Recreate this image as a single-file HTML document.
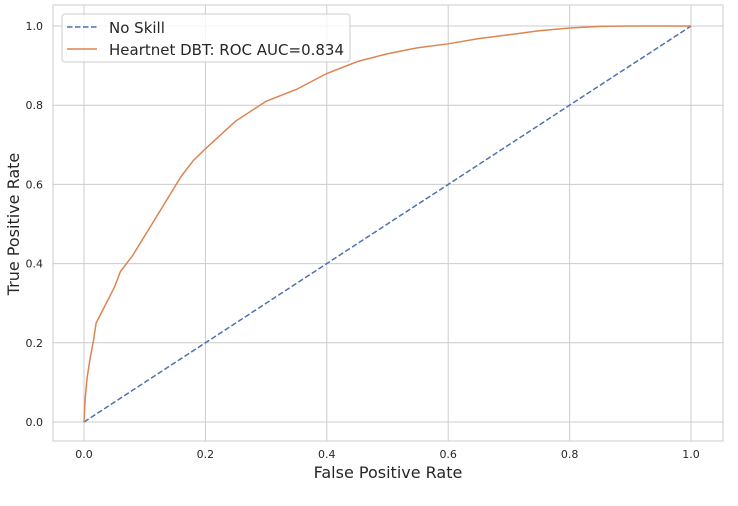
<!DOCTYPE html>
<html><head><meta charset="utf-8"><style>
body{margin:0;background:#fff;}
svg text{font-family:"DejaVu Sans","Liberation Sans",sans-serif;fill:#262626;}
</style></head><body>
<svg id="chart" width="738" height="501">
<rect x="53" y="5" width="670" height="436" fill="#fff" stroke="#ccc" stroke-width="1"/>
<g id="grid"></g>
<g id="ticks"></g>
<g id="series"></g>
<text x="388" y="478" font-size="16" text-anchor="middle">False Positive Rate</text>
<text x="19" y="224" font-size="16" text-anchor="middle" transform="rotate(-90 19 224)">True Positive Rate</text>
<g>
<rect x="62" y="14" width="288" height="48" rx="3" fill="#fff" fill-opacity="0.8" stroke="#ccc"/>
<g>
<line x1="67" y1="27" x2="97" y2="27" stroke="#4c72b0" stroke-width="1.5" stroke-dasharray="5.5,2.5"/>
<text x="109" y="33" font-size="15">No Skill</text></g>
<g>
<line x1="67" y1="49" x2="97" y2="49" stroke="#dd8452" stroke-width="1.5"/>
<text x="109" y="55" font-size="15">Heartnet DBT: ROC AUC=0.834</text></g>
</g>
</svg>
<script>
const xTicks=[0,0.2,0.4,0.6,0.8,1.0];
const yTicks=[0,0.2,0.4,0.6,0.8,1.0];
const tickLabels=["0.0","0.2","0.4","0.6","0.8","1.0"];
const noSkillFpr=[0,1];
const noSkillTpr=[0,1];
const rocFpr=[0,0.001,0.002,0.005,0.01,0.015,0.02,0.03,0.04,0.05,0.06,0.08,0.1,0.12,0.14,0.16,0.18,0.2,0.25,0.3,0.35,0.4,0.45,0.5,0.55,0.6,0.65,0.7,0.75,0.8,0.85,0.9,1];
const rocTpr=[0,0.03,0.06,0.11,0.16,0.2,0.25,0.28,0.31,0.34,0.38,0.42,0.47,0.52,0.57,0.62,0.66,0.69,0.76,0.81,0.84,0.88,0.91,0.93,0.945,0.955,0.968,0.978,0.988,0.995,0.999,1,1];
const X=v=>84+v*607, Y=v=>422-v*396;
const NS="http://www.w3.org/2000/svg";
const grid=document.getElementById('grid'),ticks=document.getElementById('ticks'),ser=document.getElementById('series');
function mk(tag,attrs,parent){const e=document.createElementNS(NS,tag);for(const k in attrs)e.setAttribute(k,attrs[k]);parent.appendChild(e);return e;}
xTicks.forEach((t,i)=>{
 const g=mk('line',{x1:X(t),x2:X(t),y1:5,y2:441,stroke:'#ccc','stroke-width':1},grid);
 
 
 const l=mk('text',{x:X(t),y:458,'font-size':11,'text-anchor':'middle'},ticks);l.textContent=tickLabels[i];
 
 
});
yTicks.forEach((t,i)=>{
 const g=mk('line',{x1:53,x2:723,y1:Y(t),y2:Y(t),stroke:'#ccc','stroke-width':1},grid);
 
 
 const l=mk('text',{x:43,y:Y(t)+4,'font-size':11,'text-anchor':'end'},ticks);l.textContent=tickLabels[i];
 
 
});
const p1=mk('polyline',{points:noSkillFpr.map((v,i)=>X(v)+','+Y(noSkillTpr[i])).join(' '),fill:'none',stroke:'#4c72b0','stroke-width':1.5,'stroke-dasharray':'5.5,2.5'},ser);


const p2=mk('polyline',{points:rocFpr.map((v,i)=>X(v)+','+Y(rocTpr[i])).join(' '),fill:'none',stroke:'#dd8452','stroke-width':1.5},ser);


</script>
</body></html>
